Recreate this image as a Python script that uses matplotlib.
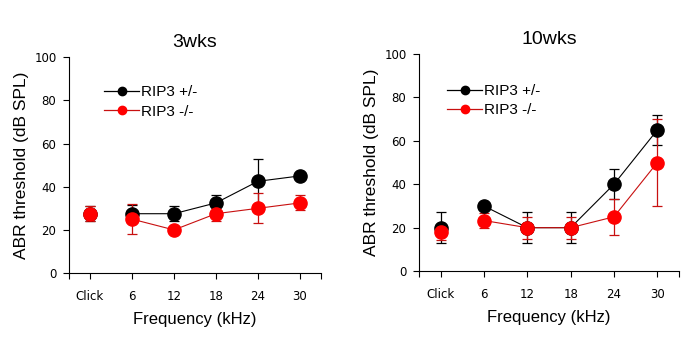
import matplotlib.pyplot as plt
import numpy as np

plt.rcParams['font.family'] = ['Liberation Sans', 'DejaVu Sans']

tick_labels = ['Click', '6', '12', '18', '24', '30']

# 3 weeks
het_3w = [27.5, 27.5, 27.5, 32.5, 42.5, 45.0]
het_3w_err = [3.5, 4.0, 3.5, 3.5, 10.5, 0.0]
ko_3w = [27.5, 25.0, 20.0, 27.5, 30.0, 32.5]
ko_3w_err = [3.5, 7.0, 0.0, 3.5, 7.0, 3.5]

# 10 weeks
het_10w = [20.0, 30.0, 20.0, 20.0, 40.0, 65.0]
het_10w_err = [7.0, 0.0, 7.0, 7.0, 7.0, 7.0]
ko_10w = [18.0, 23.3, 20.0, 20.0, 25.0, 50.0]
ko_10w_err = [3.5, 3.3, 5.0, 5.0, 8.3, 20.0]

BLACK = '#000000'
RED = '#ff0000'
DARKRED = '#c81010'


def panel(ax, title, het, het_err, ko, ko_err, leg_x, leg_y):
    x = np.arange(len(tick_labels))
    het = np.array(het); ko = np.array(ko)
    # Click is drawn on its own, frequencies are joined by a line
    for vals, errs, mc, lc in [(het, het_err, BLACK, BLACK), (ko, ko_err, RED, DARKRED)]:
        errs = np.array(errs)
        ax.errorbar(x, vals, yerr=errs, fmt='none', ecolor=lc, elinewidth=0.9,
                    capsize=3.5, capthick=0.9, zorder=2)
        ax.plot(x[1:], vals[1:], '-', color=lc, lw=0.8, zorder=2)
        ax.plot(x, vals, 'o', color=mc, ms=9.5, mec=mc, zorder=3)

    ax.plot([], [], '-o', color=BLACK, ms=6, lw=0.9, label='RIP3 +/-')
    ax.plot([], [], '-o', color=DARKRED, mfc=RED, mec=RED, ms=6, lw=0.9, label='RIP3 -/-')
    ax.legend(loc='upper left', bbox_to_anchor=(leg_x, leg_y), frameon=False,
              fontsize=11, handlelength=2.3, handletextpad=0.15, labelspacing=0.35,
              borderaxespad=0, borderpad=0)

    ax.set_xlim(-0.5, 5.5)
    ax.set_ylim(0, 100)
    ax.set_xticks(x)
    ax.set_xticklabels(tick_labels, fontsize=8.5, family='DejaVu Sans')
    ax.set_xticks([-0.5, 5.5], minor=True)
    ax.set_yticks([0, 20, 40, 60, 80, 100])
    for lab in ax.get_yticklabels():
        lab.set_family('DejaVu Sans')
    ax.tick_params(axis='y', labelsize=8.5, length=4, width=0.8, direction='out', pad=5)
    ax.tick_params(axis='x', which='both', length=4, width=0.8, direction='out', pad=8)
    ax.spines['top'].set_visible(False)
    ax.spines['right'].set_visible(False)
    ax.spines['left'].set_linewidth(0.8)
    ax.spines['bottom'].set_linewidth(0.8)
    ax.set_xlabel('Frequency (kHz)', fontsize=12, labelpad=7)
    ax.set_ylabel('ABR threshold (dB SPL)', fontsize=12.5, labelpad=4)
    ax.set_title(title, fontsize=14, pad=7)


fig = plt.figure(figsize=(6.94, 3.38), dpi=100)
ax1 = fig.add_axes([0.0994, 0.192, 0.363, 0.639])
ax2 = fig.add_axes([0.6037, 0.198, 0.3746, 0.642])

panel(ax1, '3wks', het_3w, het_3w_err, ko_3w, ko_3w_err, 0.139, 0.87)
panel(ax2, '10wks', het_10w, het_10w_err, ko_10w, ko_10w_err, 0.108, 0.862)

fig.savefig('out.png', dpi=100)
